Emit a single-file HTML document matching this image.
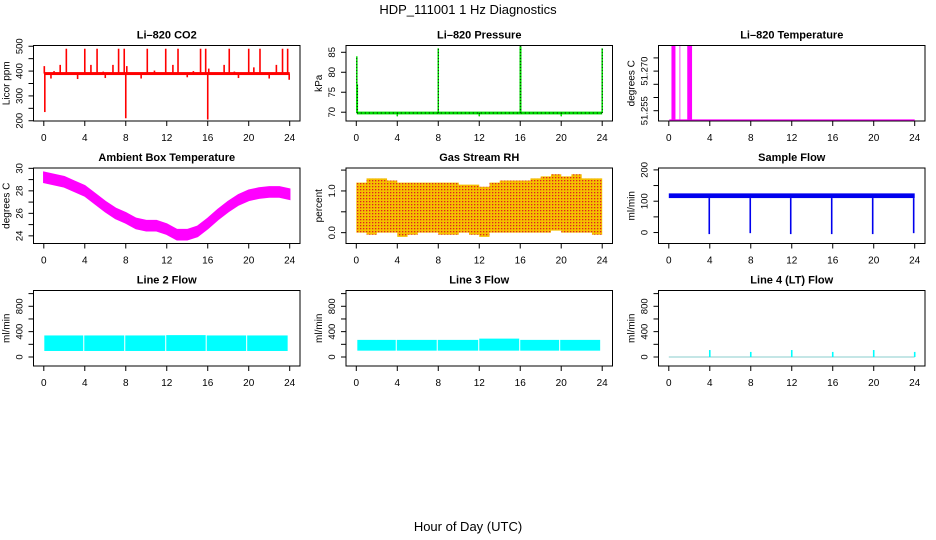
<!DOCTYPE html>
<html><head><meta charset="utf-8">
<style>
html,body{margin:0;padding:0;background:#fff;}
svg{display:block;font-family:"Liberation Sans",Arial,sans-serif;}
</style></head>
<body>
<svg id="chart" width="936" height="540" viewBox="0 0 936 540" xmlns="http://www.w3.org/2000/svg">
<defs>
<pattern id="rhpat" width="3" height="3" patternUnits="userSpaceOnUse">
<rect width="3" height="3" fill="#f5c000"/>
<rect x="0" y="0" width="1.3" height="1.3" fill="#e02020"/>
</pattern>
</defs>
<text x="468" y="14" font-size="13" text-anchor="middle">HDP_111001  1 Hz Diagnostics</text>
<text x="468" y="531" font-size="13" text-anchor="middle">Hour of Day (UTC)</text>
</svg>
<script>
// ---- data ----
const hourTicks = [0,4,8,12,16,20,24];
const co2Base = 390;
const co2SpikeHours = [0.05,0.1,1.6,2.2,4.0,4.6,5.2,6.75,7.3,7.85,8.0,8.1,10.1,11.9,12.6,13.1,15.3,15.8,16.0,16.1,17.6,18.1,20.0,20.5,21.1,22.7,23.3,23.8,23.95,0.7,3.3,6.0,9.5,14.0,19.0,22.0,1.0,5.8,10.8,14.6,18.6];
const co2SpikeValues = [420,235,425,490,490,425,490,425,490,490,210,420,490,490,425,490,490,490,205,410,425,490,490,415,490,425,490,490,365,370,368,372,370,375,372,370,400,398,402,400,398];
const pressBase = 69.8;
const pressSpikeHours = [0.05,0.1,4.0,8.0,12.0,16.0,16.05,20.0,24.0];
const pressSpikeValues = [84,77,69,86,69,86.5,86.5,69,86];
const tempBase = 51.2515;
const tempSpikeStart = [0.26,1.05,1.8];
const tempSpikeEnd = [0.65,1.12,2.27];
const tempSpikeTop = 51.2795;
const ambHours = [0,1,2,3,4,5,6,7,8,9,10,11,12,13,14,15,16,17,18,19,20,21,22,23,24];
const ambValues = [29.2,29.0,28.8,28.4,28.0,27.3,26.6,26.0,25.6,25.1,24.9,24.9,24.6,24.1,24.1,24.4,25.1,25.9,26.6,27.2,27.6,27.8,27.9,27.9,27.7];
const ambHalfWidth = 0.45;
const rhHours = [0,1,2,3,4,5,6,7,8,9,10,11,12,13,14,15,16,17,18,19,20,21,22,23,24];
const rhTops = [1.2,1.3,1.3,1.25,1.2,1.2,1.2,1.2,1.2,1.2,1.15,1.15,1.1,1.2,1.25,1.25,1.25,1.3,1.35,1.4,1.35,1.4,1.3,1.3,1.25];
const rhBottoms = [0,-0.05,0,0,-0.1,-0.05,0,0,-0.05,-0.05,0,-0.05,-0.1,0,0,0,0,0,0,0.05,0,0,0,-0.05,0];
const sampleBase = [110,125];
const sampleDipHours = [3.95,7.95,11.9,15.9,19.9,23.9];
const sampleDipValues = [-5,-2,-5,-5,-5,-2];
const line2Segs = [[0.05,3.85],[3.95,7.85],[7.95,11.85],[11.95,15.8],[15.9,19.75],[19.85,23.8]];
const line2Tops = [340,340,340,345,340,340];
const line2Bottom = 95;
const line3Segs = [[0.1,3.85],[3.95,7.85],[7.95,11.9],[12.0,15.9],[16.0,19.8],[19.9,23.8]];
const line3Tops = [270,270,270,290,270,270];
const line3Bottom = 100;
const line4SpikeHours = [4,8,12,16,20,24];
const line4SpikeValues = [110,80,110,80,110,80];

// ---- layout ----
const colLeft = [33.5,346,658.5];
const boxW = 266.5;
const rowTop = [45.5,168,290.5];
const boxH = 75.5;
const NS = "http://www.w3.org/2000/svg";
const svg = document.getElementById('chart');
function mk(tag, attrs, parent){
  const e = document.createElementNS(NS, tag);
  for (const k in attrs) e.setAttribute(k, attrs[k]);
  (parent||svg).appendChild(e);
  return e;
}
function panel(col,row,title,ylab,ymin,ymax,yticks,ylabels,name){
  const L=colLeft[col], T=rowTop[row];
  const g = mk('g',{});
  
  
  const x = h => L + 10.3 + h*(boxW-20.6)/24;
  const y = v => T + boxH - (v-ymin)/(ymax-ymin)*boxH;
  const data = mk('g',{},g);
  
  
  const box = mk('rect',{x:L,y:T,width:boxW,height:boxH,fill:'none',stroke:'#000','stroke-width':1},g);
  
  
  const t = mk('text',{x:L+boxW/2,y:T-7,'font-size':11,'font-weight':'bold','text-anchor':'middle'},g);
  t.textContent = title;
  
  
  const yl = mk('text',{x:0,y:0,'font-size':10,'text-anchor':'middle',transform:`translate(${L-24},${T+boxH/2}) rotate(-90)`},g);
  yl.textContent = ylab;
  
  
  const ya = mk('g',{},g);
  
  
  yticks.forEach(v=>{ mk('line',{x1:L,x2:L-5,y1:y(v),y2:y(v),stroke:'#000'},ya); });
  ylabels.forEach(v=>{
    const tl = mk('text',{x:0,y:0,'font-size':9.5,'text-anchor':'middle',transform:`translate(${L-11},${y(v)}) rotate(-90)`},ya);
    tl.textContent = typeof v==='number' && ymax-ymin<0.1 ? v.toFixed(3) : (ylab==='percent'? v.toFixed(1) : String(v));
  });
  const xa = mk('g',{},g);
  
  
  const ay = T+boxH;
  hourTicks.forEach(h=>{
    mk('line',{x1:x(h),x2:x(h),y1:ay,y2:ay+5,stroke:'#000'},xa);
    const tl = mk('text',{x:x(h),y:ay+20,'font-size':10,'text-anchor':'middle'},xa);
    tl.textContent = h;
  });
  return {x,y,g:data};
}
function vline(p,h,v1,v2,color,w,name){
  const e = mk('line',{x1:p.x(h),x2:p.x(h),y1:p.y(v1),y2:p.y(v2),stroke:color,'stroke-width':w},p.g);
  
  
  return e;
}
function band(p,h1,h2,v1,v2,color,name){
  const e = mk('rect',{x:p.x(h1),y:p.y(v2),width:p.x(h2)-p.x(h1),height:p.y(v1)-p.y(v2),fill:color},p.g);
  
  
  return e;
}

// CO2
let p = panel(0,0,'Li\u2013820 CO2','Licor ppm',199,503,[200,250,300,350,400,450,500],[200,300,400,500],'co2');
band(p,0.05,24,co2Base-6,co2Base+6,'#ff0000','co2-baseline');
co2SpikeHours.forEach((h,i)=>vline(p,h,co2Base,co2SpikeValues[i],'#ff0000',1.6,'co2-spike'));

// Pressure
p = panel(1,0,'Li\u2013820 Pressure','kPa',67.8,86.7,[70,75,80,85],[70,75,80,85],'pressure');
band(p,0.05,24,pressBase-0.35,pressBase+0.35,'#00dd00','pressure-baseline');
const pl = mk('line',{x1:p.x(0.05),x2:p.x(24),y1:p.y(pressBase),y2:p.y(pressBase),stroke:'#000','stroke-width':1,'stroke-dasharray':'1 3'},p.g);


pressSpikeHours.forEach((h,i)=>{
  vline(p,h,pressBase,pressSpikeValues[i],'#00dd00',1.5,'pressure-spike');
  const d = vline(p,h,pressBase,pressSpikeValues[i],'#000',0.8,'pressure-spike-dots');
  d.setAttribute('stroke-dasharray','1 2');
});

// Temperature
p = panel(2,0,'Li\u2013820 Temperature','degrees C',51.2511,51.2797,[51.255,51.26,51.265,51.27,51.275],[51.255,51.27],'li820-temp');
const tb = mk('line',{x1:p.x(0.05),x2:p.x(24),y1:p.y(tempBase),y2:p.y(tempBase),stroke:'#ff00ff','stroke-width':1.2},p.g);


tempSpikeStart.forEach((h,i)=>band(p,h,tempSpikeEnd[i],tempBase,tempSpikeTop,'#ff00ff','temp-spike'));

// Ambient
p = panel(0,1,'Ambient Box Temperature','degrees C',23.32,30.03,[24,25,26,27,28,29,30],[24,26,28,30],'ambient');
{
  let pts = ambHours.map((h,i)=>`${p.x(h)},${p.y(ambValues[i]+ambHalfWidth)}`);
  let pts2 = ambHours.map((h,i)=>`${p.x(h)},${p.y(ambValues[i]-ambHalfWidth)}`).reverse();
  const poly = mk('polygon',{points:pts.concat(pts2).join(' '),fill:'#ff00ff',stroke:'#ff00ff','stroke-width':1.5},p.g);
  
  
}

// RH
p = panel(1,1,'Gas Stream RH','percent',-0.26,1.55,[0,0.5,1.0,1.5],[0,1.0],'rh');
{
  let pts=[];
  rhHours.forEach((h,i)=>{ const h2=Math.min(h+1,24); pts.push(`${p.x(h)},${p.y(rhTops[i])}`,`${p.x(h2)},${p.y(rhTops[i])}`); });
  let pts2=[];
  rhHours.forEach((h,i)=>{ const h2=Math.min(h+1,24); pts2.push(`${p.x(h)},${p.y(rhBottoms[i])}`,`${p.x(h2)},${p.y(rhBottoms[i])}`); });
  const poly = mk('polygon',{points:pts.concat(pts2.reverse()).join(' '),fill:'url(#rhpat)'},p.g);
  
  
}

// Sample flow
p = panel(2,1,'Sample Flow','ml/min',-35,206,[0,50,100,150,200],[0,100,200],'sample-flow');
band(p,0,24,sampleBase[0],sampleBase[1],'#0000ee','sample-flow-band');
sampleDipHours.forEach((h,i)=>vline(p,h,sampleBase[0],sampleDipValues[i],'#0000ee',1.6,'sample-flow-dip'));

// Line 2
p = panel(0,2,'Line 2 Flow','ml/min',-142,1049,[0,200,400,600,800,1000],[0,400,800],'line2');
line2Segs.forEach((s,i)=>band(p,s[0],s[1],line2Bottom,line2Tops[i],'#00ffff','line2-segment'));
// Line 3
p = panel(1,2,'Line 3 Flow','ml/min',-142,1049,[0,200,400,600,800,1000],[0,400,800],'line3');
line3Segs.forEach((s,i)=>band(p,s[0],s[1],line3Bottom,line3Tops[i],'#00ffff','line3-segment'));
// Line 4
p = panel(2,2,'Line 4 (LT) Flow','ml/min',-142,1049,[0,200,400,600,800,1000],[0,400,800],'line4');
{
  const b = mk('line',{x1:p.x(0),x2:p.x(24),y1:p.y(0),y2:p.y(0),stroke:'#a0d8d8','stroke-width':1.2},p.g);
  
  
}
line4SpikeHours.forEach((h,i)=>vline(p,h,0,line4SpikeValues[i],'#00ffff',1.6,'line4-spike'));
</script>
</body></html>
